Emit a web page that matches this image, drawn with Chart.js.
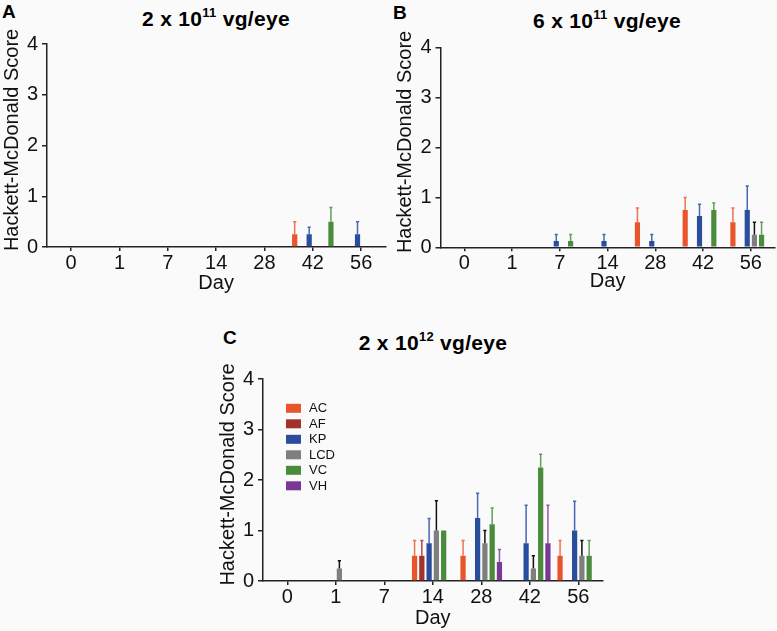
<!DOCTYPE html>
<html>
<head>
<meta charset="utf-8">
<script src="https://cdn.jsdelivr.net/npm/chart.js@4.4.1/dist/chart.umd.min.js"></script>
<style>
  html, body { margin:0; padding:0; }
  body { width:777px; height:631px; overflow:hidden; position:relative; background:#fafafa;
         font-family:"Liberation Sans", Arial, Helvetica, sans-serif; color:#000; }
  .panel { position:absolute; }
  .lbl { position:absolute; font-weight:bold; font-size:19px; line-height:22px; }
  .ttl { position:absolute; font-weight:bold; font-size:21px; line-height:24px; white-space:nowrap;
         transform:translateX(-50%); letter-spacing:0.3px; }
  .ttl sup { font-size:13px; vertical-align:baseline; position:relative; top:-9px; }
</style>
</head>
<body>
<div class="lbl" style="left:2px;top:1px;">A</div>
<div class="lbl" style="left:393px;top:2px;">B</div>
<div class="lbl" style="left:223px;top:327px;">C</div>
<div class="ttl" style="left:216px;top:7px;">2 x 10<sup>11</sup> vg/eye</div>
<div class="ttl" style="left:607px;top:9px;">6 x 10<sup>11</sup> vg/eye</div>
<div class="ttl" style="left:433px;top:331px;">2 x 10<sup>12</sup> vg/eye</div>

<div class="panel" style="left:0px;top:0px;width:390px;height:300px;"><canvas id="cA"></canvas></div>
<div class="panel" style="left:390px;top:0px;width:387px;height:300px;"><canvas id="cB"></canvas></div>
<div class="panel" style="left:210px;top:300px;width:400px;height:331px;"><canvas id="cC"></canvas></div>

<script>
// ---------- data ----------
const days = ['0', '1', '7', '14', '28', '42', '56'];
const yTicks = [0, 1, 2, 3, 4];
const seriesNames = ['AC', 'AF', 'KP', 'LCD', 'VC', 'VH'];
const seriesColors = ['#E8542B', '#A33328', '#2A4D9E', '#7F7F7F', '#4B8B3D', '#783894'];
const errorColors  = ['#EE7352', '#B44A42', '#4867B4', '#111111', '#64A058', '#9457AD'];

// Panel A: 2 x 10^11 vg/eye (mean, upper error)
const aAC    = [0, 0, 0, 0, 0, 0.25, 0];
const aAC_e  = [0, 0, 0, 0, 0, 0.25, 0];
const aAF    = [0, 0, 0, 0, 0, 0, 0];
const aAF_e  = [0, 0, 0, 0, 0, 0, 0];
const aKP    = [0, 0, 0, 0, 0, 0.25, 0.25];
const aKP_e  = [0, 0, 0, 0, 0, 0.14, 0.25];
const aLCD   = [0, 0, 0, 0, 0, 0, 0];
const aLCD_e = [0, 0, 0, 0, 0, 0, 0];
const aVC    = [0, 0, 0, 0, 0, 0.5, 0];
const aVC_e  = [0, 0, 0, 0, 0, 0.28, 0];
const aVH    = [0, 0, 0, 0, 0, 0, 0];
const aVH_e  = [0, 0, 0, 0, 0, 0, 0];
const aOrder = ['AC', 'AF', 'KP', 'LCD', 'VH', 'VC'];

// Panel B: 6 x 10^11 vg/eye
const bAC    = [0, 0, 0, 0, 0.5, 0.75, 0.5];
const bAC_e  = [0, 0, 0, 0, 0.29, 0.25, 0.29];
const bAF    = [0, 0, 0, 0, 0, 0, 0];
const bAF_e  = [0, 0, 0, 0, 0, 0, 0];
const bKP    = [0, 0, 0.125, 0.125, 0.125, 0.625, 0.75];
const bKP_e  = [0, 0, 0.13, 0.13, 0.13, 0.24, 0.48];
const bLCD   = [0, 0, 0, 0, 0, 0, 0.25];
const bLCD_e = [0, 0, 0, 0, 0, 0, 0.25];
const bVC    = [0, 0, 0.125, 0, 0, 0.75, 0.25];
const bVC_e  = [0, 0, 0.13, 0, 0, 0.14, 0.25];
const bVH    = [0, 0, 0, 0, 0, 0, 0];
const bVH_e  = [0, 0, 0, 0, 0, 0, 0];
const bOrder = ['AC', 'AF', 'KP', 'LCD', 'VC', 'VH'];

// Panel C: 2 x 10^12 vg/eye
const cAC    = [0, 0, 0, 0.5, 0.5, 0, 0.5];
const cAC_e  = [0, 0, 0, 0.3, 0.3, 0, 0.3];
const cAF    = [0, 0, 0, 0.5, 0, 0, 0];
const cAF_e  = [0, 0, 0, 0.3, 0, 0, 0];
const cKP    = [0, 0, 0, 0.75, 1.25, 0.75, 1.0];
const cKP_e  = [0, 0, 0, 0.49, 0.49, 0.75, 0.58];
const cLCD   = [0, 0.25, 0, 1.0, 0.75, 0.25, 0.5];
const cLCD_e = [0, 0.15, 0, 0.59, 0.25, 0.25, 0.3];
const cVC    = [0, 0, 0, 1.0, 1.125, 2.25, 0.5];
const cVC_e  = [0, 0, 0, 0, 0.32, 0.26, 0.3];
const cVH    = [0, 0, 0, 0, 0.375, 0.75, 0];
const cVH_e  = [0, 0, 0, 0, 0.25, 0.75, 0];
const cOrder = ['AC', 'AF', 'KP', 'LCD', 'VC', 'VH'];

// ---------- helpers ----------
const FONT = '"Liberation Sans", Arial, Helvetica, sans-serif';
Chart.defaults.font.family = FONT;
Chart.defaults.color = '#111';

function buildDatasets(order, vals, errs) {
  return order.map(name => {
    const k = seriesNames.indexOf(name);
    return {
      label: name,
      data: vals[name],
      errors: errs[name],
      errorColor: errorColors[k],
      backgroundColor: seriesColors[k],
      borderWidth: 0,
      categoryPercentage: 0.9,
      barPercentage: 0.72
    };
  });
}

const errorBars = {
  id: 'errorBars',
  afterDatasetsDraw(chart) {
    const ctx = chart.ctx, ys = chart.scales.y;
    chart.data.datasets.forEach((ds, i) => {
      const meta = chart.getDatasetMeta(i);
      meta.data.forEach((bar, j) => {
        const e = ds.errors[j], v = ds.data[j];
        if (!e) return;
        const x = bar.x, y0 = ys.getPixelForValue(v), y1 = ys.getPixelForValue(v + e);
        ctx.save();
        ctx.strokeStyle = ds.errorColor;
        ctx.lineWidth = 1.5;
        ctx.beginPath();
        ctx.moveTo(x, y0); ctx.lineTo(x, y1);
        ctx.moveTo(x - 1.6, y1); ctx.lineTo(x + 1.6, y1);
        ctx.stroke();
        ctx.restore();
      });
    });
  }
};

const insideLegend = {
  id: 'insideLegend',
  afterDraw(chart, args, opts) {
    if (!opts || !opts.show) return;
    const ctx = chart.ctx, ca = chart.chartArea;
    ctx.save();
    ctx.font = '13px ' + FONT;
    ctx.textBaseline = 'middle';
    chart.data.datasets.forEach((ds, i) => {
      const x = ca.left + opts.dx, y = ca.top + opts.dy + i * opts.step;
      ctx.fillStyle = ds.backgroundColor;
      ctx.fillRect(x, y - 4.5, 15, 9);
      ctx.fillStyle = '#111';
      ctx.fillText(ds.label, x + 23, y + 0.5);
    });
    ctx.restore();
  }
};

function makeChart(id, datasets, cfg) {
  return new Chart(document.getElementById(id), {
    type: 'bar',
    data: { labels: days, datasets },
    plugins: [errorBars, insideLegend],
    options: {
      responsive: true,
      maintainAspectRatio: false,
      animation: false,
      layout: { padding: cfg.pad },
      plugins: {
        legend: { display: false },
        tooltip: { enabled: false },
        insideLegend: cfg.legend || { show: false }
      },
      scales: {
        x: {
          offset: true,
          grid: { display: true, drawOnChartArea: false, drawTicks: true, tickLength: 4,
                  offset: false, color: '#222', lineWidth: 1.5 },
          border: { display: true, color: '#222', width: 1.5 },
          ticks: { font: { size: 20 }, color: '#111', padding: 0, maxRotation: 0, autoSkip: false },
          title: { display: true, text: 'Day', font: { size: 20 }, color: '#111',
                   padding: { top: 0, bottom: cfg.dayPad } },
          afterFit(s) { s.height = cfg.xH; }
        },
        y: {
          min: 0, max: 4,
          afterBuildTicks(s) { s.ticks = yTicks.map(v => ({ value: v })); },
          grid: { display: true, drawOnChartArea: false, drawTicks: true, tickLength: 5,
                  color: '#222', lineWidth: 1.5 },
          border: { display: true, color: '#222', width: 1.5 },
          ticks: { font: { size: 20 }, color: '#111', padding: 4 },
          title: { display: true, text: '  Hackett-McDonald Score', font: { size: 20 }, color: '#111',
                   padding: { top: cfg.yTitlePad, bottom: 0 } },
          afterFit(s) { s.width = cfg.yW; }
        }
      }
    }
  });
}

makeChart('cA',
  buildDatasets(aOrder,
    { AC: aAC, AF: aAF, KP: aKP, LCD: aLCD, VC: aVC, VH: aVH },
    { AC: aAC_e, AF: aAF_e, KP: aKP_e, LCD: aLCD_e, VC: aVC_e, VH: aVH_e }),
  { pad: { left: 0, top: 44, right: 4.7, bottom: 0 }, yW: 47, xH: 53, dayPad: 5, yTitlePad: 0 });

makeChart('cB',
  buildDatasets(bOrder,
    { AC: bAC, AF: bAF, KP: bKP, LCD: bLCD, VC: bVC, VH: bVH },
    { AC: bAC_e, AF: bAF_e, KP: bKP_e, LCD: bLCD_e, VC: bVC_e, VH: bVH_e }),
  { pad: { left: 0, top: 47.7, right: 2.3, bottom: 0 }, yW: 50.5, xH: 52.7, dayPad: 7, yTitlePad: 3 });

makeChart('cC',
  buildDatasets(cOrder,
    { AC: cAC, AF: cAF, KP: cKP, LCD: cLCD, VC: cVC, VH: cVH },
    { AC: cAC_e, AF: cAF_e, KP: cKP_e, LCD: cLCD_e, VC: cVC_e, VH: cVH_e }),
  { pad: { left: 0, top: 79, right: 7.5, bottom: 0 }, yW: 53, xH: 50, dayPad: 1, yTitlePad: 6,
    legend: { show: true, dx: 23, dy: 29.3, step: 15.5 } });
</script>
</body>
</html>
